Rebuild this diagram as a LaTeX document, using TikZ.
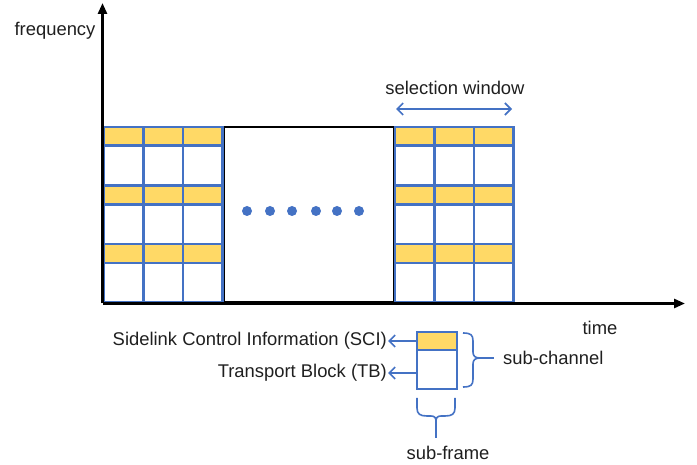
\documentclass[tikz,border=0pt]{standalone}
\usepackage{fontspec}
\setmainfont{Liberation Sans}
\usetikzlibrary{arrows.meta}
\definecolor{gblue}{HTML}{4472C4}
\definecolor{gyellow}{HTML}{FFD966}
\begin{document}
\begin{tikzpicture}[x=1pt,y=-1pt,
  font=\fontsize{18.4}{20}\selectfont,
  gridline/.style={draw=gblue, line width=2.1pt},
  axis/.style={draw=black, line width=2.6pt, -{Triangle[length=11pt,width=9pt]}},
  barrow/.style={draw=gblue, line width=1.6pt, -{Straight Barb[length=6pt,width=12pt]}},
  bracepath/.style={draw=gblue, line width=1.6pt},
  lbl/.style={inner sep=1pt, text=black!88},
  smallbox/.style={draw=gblue, line width=2pt, minimum width=40pt, anchor=north west, inner sep=0pt}]
\useasboundingbox (0,0) rectangle (697,465);
% middle black box
\draw[line width=2.2pt] (224,127) rectangle (394.5,302);
% grids
\foreach \xo in {104,395} {
  \foreach \ya/\yb in {127/145.5,185.5/204.5,244/263}
    \fill[gyellow] (\xo,\ya) rectangle (\xo+118.5,\yb);
  \foreach \y in {127,145.5,185.5,204.5,244,263,302}
    \draw[gridline] (\xo-1,\y) -- (\xo+119.5,\y);
  \foreach \i in {0,1,2,3}
    \draw[gridline] (\xo+39.5*\i,127) -- (\xo+39.5*\i,302);
}
% axes
\coordinate (O) at (102.5,303.5);
\coordinate (ytip) at (102.5,3);
\coordinate (xtip) at (685,303.5);
\draw[axis] (O) -- (ytip);
\draw[axis] (O) -- (xtip);
\node[lbl] (freq) at (55,31) {frequency};
\node[lbl] (time) at (600,328) {time};
% dots
\foreach \x in {247,270,292,316,337,359}
  \fill[gblue] (\x,211) circle (5pt);
% selection window
\node[lbl] (sw) at (455,88) {selection window};
\coordinate (swl) at (396,109);
\coordinate (swr) at (512,109);
\draw[barrow, {Straight Barb[length=6pt,width=12pt]}-{Straight Barb[length=6pt,width=12pt]}] (swl) -- (swr);
% legend boxes
\node[smallbox, fill=gyellow, minimum height=18pt] (scibox) at (416,331) {};
\node[smallbox, fill=white, minimum height=39pt] (tbbox) at (416,349) {};
\node[lbl, anchor=east] (scitext) at (388,341) {Sidelink Control Information (SCI)};
\node[lbl, anchor=east] (tbtext) at (388,373) {Transport Block (TB)};
\draw[barrow] (scibox.west |- scitext.east) -- (scitext.east);
\draw[barrow] (tbbox.west |- tbtext.east) -- (tbtext.east);
% right brace
\draw[bracepath] (463,333) .. controls (471,333) and (473,335) .. (473,341) -- (473,352)
  .. controls (473,356) and (475,358) .. (480,358)
  .. controls (475,358) and (473,360) .. (473,364) -- (473,379)
  .. controls (473,385) and (471,387) .. (463,387);
\coordinate (rbtip) at (480,358);
\coordinate (rbend) at (494,358);
\node[lbl, anchor=west] (subch) at (502,358) {sub-channel};
\draw[bracepath] (rbtip) -- (rbend);
% bottom brace
\draw[bracepath] (417,398) -- (417,408) .. controls (417,414) and (420,416) .. (427,416) -- (431,416)
  .. controls (435,416) and (436,418) .. (436,422)
  .. controls (436,418) and (437,416) .. (441,416) -- (445,416)
  .. controls (452,416) and (455,414) .. (455,408) -- (455,398);
\coordinate (bbtip) at (436,422);
\coordinate (bbend) at (436,438);
\node[lbl] (subfr) at (448,453) {sub-frame};
\draw[bracepath] (bbtip) -- (bbend);
\end{tikzpicture}
\end{document}
